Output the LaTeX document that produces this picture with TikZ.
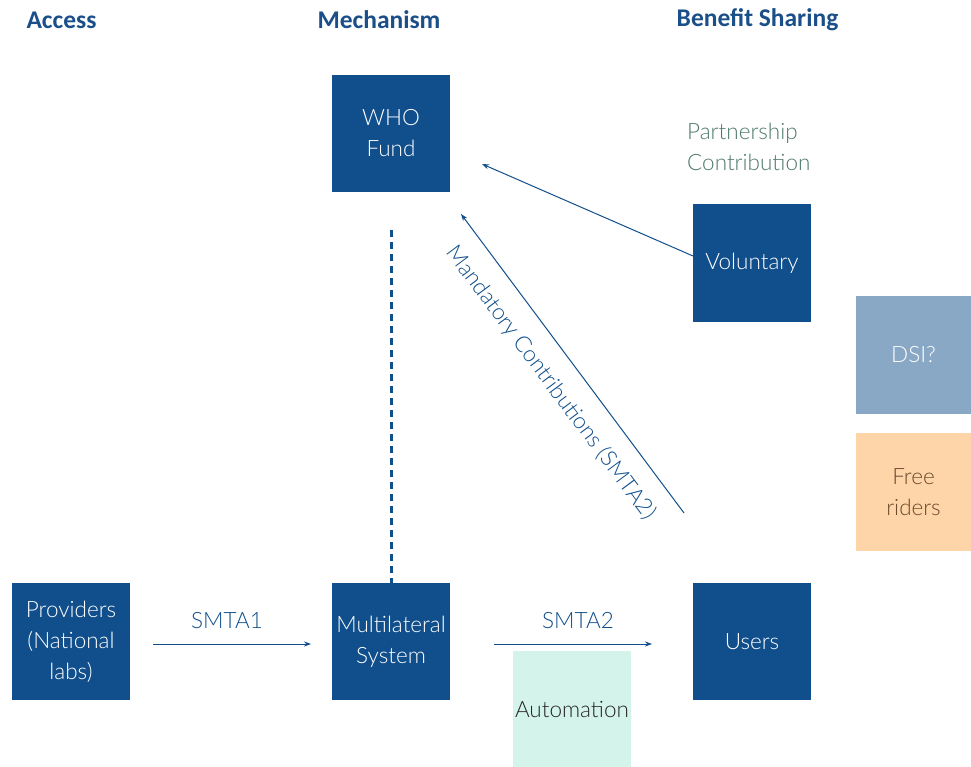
\documentclass[tikz,border=0pt]{standalone}
\usepackage{fontspec}
\setmainfont{Lato Light}
\newfontfamily\headfont{Carlito}
\usetikzlibrary{arrows.meta}
\definecolor{dblue}{HTML}{114F8C}
\definecolor{hblue}{HTML}{1A4F8A}
\definecolor{dsiblue}{HTML}{89A8C6}
\definecolor{peach}{HTML}{FDD5A8}
\definecolor{brownt}{HTML}{6B4A2E}
\definecolor{mint}{HTML}{D3F3EB}
\definecolor{pgreen}{HTML}{4E7A68}
\begin{document}
\begin{tikzpicture}[x=1pt,y=-1pt,
  box/.style={rectangle,fill=dblue,text=white,minimum width=118pt,minimum height=117pt,inner sep=0pt,align=center,font=\fontsize{22.5}{31}\selectfont},
  sidebox/.style={rectangle,minimum width=115pt,minimum height=118pt,inner sep=0pt,align=center,font=\fontsize{22.5}{31}\selectfont},
  head/.style={text=hblue,font=\headfont\bfseries\fontsize{25.5}{28}\selectfont,inner sep=0pt},
  lbl/.style={text=dblue,font=\fontsize{22.5}{31}\selectfont,inner sep=0pt},
  conn/.style={draw=dblue,line width=1pt,-{Stealth[length=7pt,width=5pt]}}]
\useasboundingbox (0,0) rectangle (971,767);
\fill[white] (0,0) rectangle (971,767);
% headers
\node[head] (hacc) at (61.5,20) {Access};
\node[head] (hmech) at (379,20) {Mechanism};
\node[head] (hben) at (757.5,20) {Benefit Sharing};
% boxes
\node[box] (who) at (391,133.5) {WHO\\Fund};
\node[box] (vol) at (752,263) {Voluntary};
\node[sidebox,fill=dsiblue,text=white] (dsi) at (913.5,355) {DSI?};
\node[sidebox,fill=peach,text=brownt] (free) at (913.5,492) {Free\\riders};
\node[box] (prov) at (71,641.5) {Providers\\(National\\labs)};
\node[box] (mls) at (391,641.5) {Multilateral\\System};
\node[box] (users) at (752,641.5) {Users};
\node[rectangle,fill=mint,text=black!85,minimum width=118pt,minimum height=116pt,inner sep=0pt,font=\fontsize{22.5}{31}\selectfont] (auto) at (572,709) {Automation};
% partnership text
\node[anchor=north west,text=pgreen,align=left,inner sep=0pt,font=\fontsize{22.5}{31}\selectfont] (part) at (687,123) {Partnership\\Contribution};
% coordinates
\coordinate (s1a) at (153,644);
\coordinate (s1b) at (311,644);
\coordinate (s2a) at (494,644);
\coordinate (s2b) at (652,644);
\coordinate (da) at (391,230);
\coordinate (va) at (693,256);
\coordinate (vb) at (482,164);
\coordinate (ma) at (684,513);
\coordinate (mb) at (461,214);
% connectors
\draw[conn] (s1a) -- (s1b);
\draw[conn] (s2a) -- (s2b);
\node[lbl] (l1) at (227,621) {SMTA1};
\node[lbl] (l2) at (578,621) {SMTA2};
\draw[draw=dblue,line width=3pt,dash pattern=on 7pt off 5pt] (da) -- (mls.north);
\draw[conn] (va) -- (vb);
\draw[conn] (ma) -- (mb);
\node[lbl,rotate=-53.3] (lm) at (551,383) {Mandatory Contributions (SMTA2)};
\end{tikzpicture}
\end{document}
